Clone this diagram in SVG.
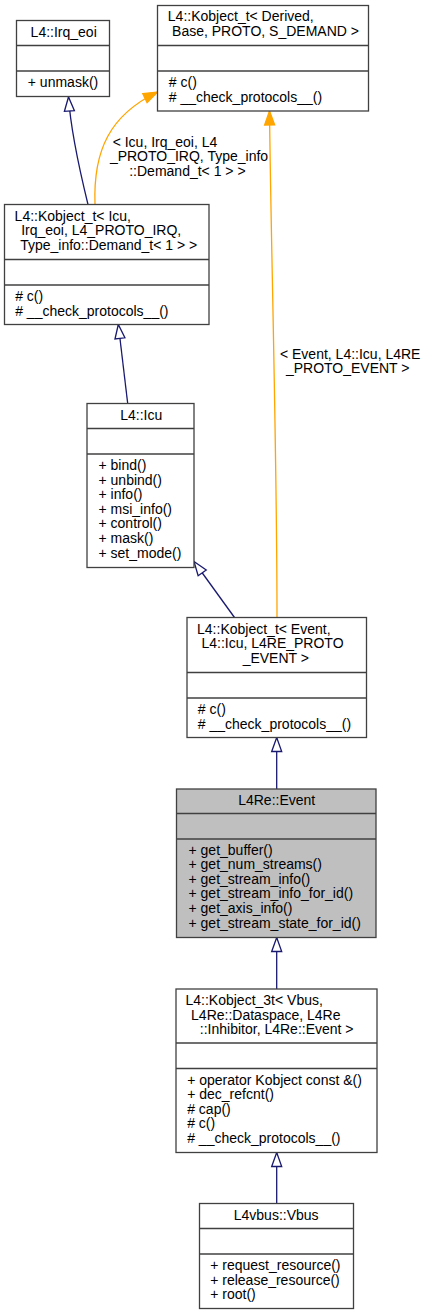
<svg xmlns="http://www.w3.org/2000/svg" width="425" height="1315" viewBox="0 0 425 1315">
<style>
text{font-family:"Liberation Sans",Arial,sans-serif;font-size:14px;fill:#000}
.c{text-anchor:middle}
.box{fill:#fff;stroke:#404040;stroke-width:1.3}
.cur{fill:#bfbfbf;stroke:#404040;stroke-width:1.3}
.div{stroke:#404040;stroke-width:1.3}
.inh{fill:none;stroke:#191970;stroke-width:1.3;marker-end:url(#hollow)}
.tpl{fill:none;stroke:#ffa500;stroke-width:1.3;marker-end:url(#solid)}
</style>
<defs>
<marker id="hollow" viewBox="-2 -2 18 14" refX="14" refY="5" markerWidth="18" markerHeight="14" markerUnits="userSpaceOnUse" orient="auto">
<path d="M0,0 L14,5 L0,10 Z" fill="#fff" stroke="#191970" stroke-width="1.3"/>
</marker>
<marker id="solid" viewBox="-2 -2 18 14" refX="14" refY="5" markerWidth="18" markerHeight="14" markerUnits="userSpaceOnUse" orient="auto">
<path d="M0,0 L14,5 L0,10 Z" fill="#ffa500" stroke="#ffa500" stroke-width="1.3"/>
</marker>
</defs>

<g id="edges">
<path class="inh" d="M88,204.5 C82,180 71,135 68.5,97"/>
<path class="tpl" d="M95,204.5 C93,150 110,115 157.5,92"/>
<path class="tpl" d="M277,617.5 C277,450 271,250 269.5,111"/>
<path class="inh" d="M127.7,403.5 L118.3,324.5"/>
<path class="inh" d="M234.5,617.5 L194,561.5"/>
<path class="inh" d="M276.7,789 L276.7,737.5"/>
<path class="inh" d="M276.7,989 L276.7,937.5"/>
<path class="inh" d="M276.7,1203.5 L276.7,1152.5"/>
<g id="edge-labels">
<text class="c" x="165" y="146.5">&lt; Icu, Irq_eoi, L4</text>
<text class="c" x="189" y="161.1">_PROTO_IRQ, Type_info</text>
<text class="c" x="187.4" y="175.7">::Demand_t&lt; 1 &gt; &gt;</text>
<text class="c" x="350.2" y="358.5">&lt; Event, L4::Icu, L4RE</text>
<text class="c" x="347.7" y="373.1">_PROTO_EVENT &gt;</text>
</g>
</g>

<g id="irq_eoi">
<rect class="box" x="16.5" y="20.5" width="93" height="76"/>
<line class="div" x1="16.5" y1="45.5" x2="109.5" y2="45.5"/>
<line class="div" x1="16.5" y1="71" x2="109.5" y2="71"/>
<text class="c" x="63.7" y="36.5">L4::Irq_eoi</text>
<text x="27.8" y="87">+ unmask()</text>
</g>

<g id="kobject_t_derived">
<rect class="box" x="157.5" y="5.5" width="211" height="105.5"/>
<line class="div" x1="157.5" y1="45.5" x2="368.5" y2="45.5"/>
<line class="div" x1="157.5" y1="71" x2="368.5" y2="71"/>
<text class="c" x="240.8" y="21">L4::Kobject_t&lt; Derived,</text>
<text class="c" x="265.5" y="35.6">Base, PROTO, S_DEMAND &gt;</text>
<text x="168.8" y="87"># c()</text>
<text x="168.8" y="101.6"># __check_protocols__()</text>
</g>

<g id="kobject_t_icu">
<rect class="box" x="4.5" y="204.5" width="204.5" height="120"/>
<line class="div" x1="4.5" y1="259.5" x2="209" y2="259.5"/>
<line class="div" x1="4.5" y1="285" x2="209" y2="285"/>
<text class="c" x="72.8" y="220.5">L4::Kobject_t&lt; Icu,</text>
<text class="c" x="101.2" y="235.1">Irq_eoi, L4_PROTO_IRQ,</text>
<text class="c" x="108.7" y="249.7">Type_info::Demand_t&lt; 1 &gt; &gt;</text>
<text x="15.2" y="301"># c()</text>
<text x="15.2" y="315.6"># __check_protocols__()</text>
</g>

<g id="icu">
<rect class="box" x="87" y="403.5" width="107" height="164"/>
<line class="div" x1="87" y1="428.5" x2="194" y2="428.5"/>
<line class="div" x1="87" y1="454" x2="194" y2="454"/>
<text class="c" x="141.2" y="419.5">L4::Icu</text>
<text x="98.5" y="470">+ bind()</text>
<text x="98.5" y="484.6">+ unbind()</text>
<text x="98.5" y="499.2">+ info()</text>
<text x="98.5" y="513.8">+ msi_info()</text>
<text x="98.5" y="528.4">+ control()</text>
<text x="98.5" y="543">+ mask()</text>
<text x="98.5" y="557.6">+ set_mode()</text>
</g>

<g id="kobject_t_event">
<rect class="box" x="187" y="617.5" width="179.5" height="120"/>
<line class="div" x1="187" y1="672.5" x2="366.5" y2="672.5"/>
<line class="div" x1="187" y1="698" x2="366.5" y2="698"/>
<text class="c" x="263.8" y="633.5">L4::Kobject_t&lt; Event,</text>
<text class="c" x="272.5" y="648.1">L4::Icu, L4RE_PROTO</text>
<text class="c" x="275.8" y="662.7">_EVENT &gt;</text>
<text x="197.8" y="714"># c()</text>
<text x="197.8" y="728.6"># __check_protocols__()</text>
</g>

<g id="l4re_event">
<rect class="cur" x="176.5" y="789" width="199.5" height="148.5"/>
<line class="div" x1="176.5" y1="813.5" x2="376" y2="813.5"/>
<line class="div" x1="176.5" y1="839" x2="376" y2="839"/>
<text class="c" x="276.7" y="805">L4Re::Event</text>
<text x="188.5" y="854.5">+ get_buffer()</text>
<text x="188.5" y="869.1">+ get_num_streams()</text>
<text x="188.5" y="883.7">+ get_stream_info()</text>
<text x="188.5" y="898.3">+ get_stream_info_for_id()</text>
<text x="188.5" y="912.9">+ get_axis_info()</text>
<text x="188.5" y="927.5">+ get_stream_state_for_id()</text>
</g>

<g id="kobject_3t">
<rect class="box" x="176" y="989" width="201" height="163.5"/>
<line class="div" x1="176" y1="1043" x2="377" y2="1043"/>
<line class="div" x1="176" y1="1068.5" x2="377" y2="1068.5"/>
<text class="c" x="254.2" y="1005">L4::Kobject_3t&lt; Vbus,</text>
<text class="c" x="265.8" y="1019.6">L4Re::Dataspace, L4Re</text>
<text class="c" x="276.7" y="1034.2">::Inhibitor, L4Re::Event &gt;</text>
<text x="187.2" y="1084.5">+ operator Kobject const &amp;()</text>
<text x="187.2" y="1099.1">+ dec_refcnt()</text>
<text x="187.2" y="1113.7"># cap()</text>
<text x="187.2" y="1128.3"># c()</text>
<text x="187.2" y="1142.9"># __check_protocols__()</text>
</g>

<g id="vbus">
<rect class="box" x="199.5" y="1203.5" width="154" height="105"/>
<line class="div" x1="199.5" y1="1228.5" x2="353.5" y2="1228.5"/>
<line class="div" x1="199.5" y1="1254" x2="353.5" y2="1254"/>
<text class="c" x="276.2" y="1219.5">L4vbus::Vbus</text>
<text x="210.2" y="1270">+ request_resource()</text>
<text x="210.2" y="1284.6">+ release_resource()</text>
<text x="210.2" y="1299.2">+ root()</text>
</g>
</svg>
